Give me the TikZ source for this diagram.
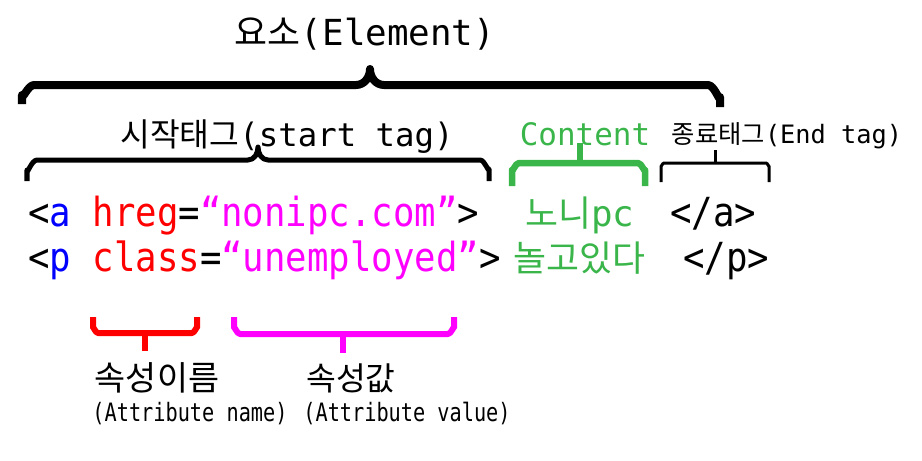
\documentclass[tikz,border=0pt]{standalone}
\usepackage{fontspec}
\usepackage{xcolor}
\setmainfont{DejaVu Sans Mono}
\newfontfamily\kr{Noto Sans CJK KR}
\definecolor{tagblue}{RGB}{0,0,255}
\definecolor{attrred}{RGB}{255,0,0}
\definecolor{valmagenta}{RGB}{255,0,255}
\definecolor{contentgreen}{RGB}{57,181,74}

\begin{document}
\begin{tikzpicture}[x=0.025cm, y=-0.025cm,
  every node/.style={inner sep=0pt, anchor=base},
  code/.style={font=\fontsize{28.5}{32}\selectfont, anchor=base west, xscale=0.89, transform shape},
  krcode/.style={font=\fontsize{25.5}{30}\selectfont, anchor=base west},
  label/.style={font=\fontsize{23}{27}\selectfont},
  small/.style={font=\fontsize{18}{21}\selectfont, xscale=0.8, transform shape},
  bracket/.style={line width=#1*0.7113pt, line cap=butt, line join=round}]
  \useasboundingbox (0,0) rectangle (922,461);

  % labels above
  \node[font=\fontsize{25.5}{30}\selectfont] (element) at (365,45) {{\kr 요소}(Element)};
  \node[label] (starttag) at (287,146) {{\kr 시작태그}(start tag)};
  \node[label, font=\fontsize{22}{26}\selectfont, text=contentgreen] (content) at (585,145) {Content};
  \node[font=\fontsize{18}{21}\selectfont] (endtag) at (787,143) {{\kr 종료태그}(End tag)};

  % braces
  \draw[bracket=8] (22,104) -- (22,95) to[out=-90,in=180] (34,85) -- (356,85)
    to[out=0,in=-90] (370,69) to[out=-90,in=180] (384,85) -- (708,85)
    to[out=0,in=-90] (720,97) -- (720,107);
  \draw[bracket=5] (27,181) -- (27,170) to[out=-90,in=180] (37,160) -- (248,160)
    to[out=0,in=-90] (258,147) to[out=-90,in=180] (268,160) -- (480,160)
    to[out=0,in=-90] (489,169) -- (489,181);
  \draw[bracket=6.5, contentgreen] (512,186) -- (512,170) to[out=-90,in=180] (519,163) -- (638,163)
    to[out=0,in=-90] (645,170) -- (645,186);
  \draw[bracket=6.5, contentgreen] (580,163) -- (580,143);
  \draw[bracket=3] (661,182) -- (661,166) to[out=-90,in=180] (664,163) -- (766,163)
    to[out=0,in=-90] (769,166) -- (769,182);
  \draw[bracket=3] (715,163) -- (715,150);

  % code lines
  \node[code] (line1) at (28,226) {<\textcolor{tagblue}{a} \textcolor{attrred}{hreg}=\textcolor{valmagenta}{“nonipc.com”}>};
  \node[krcode, text=contentgreen] (content1) at (525,226) {{\kr 노니}pc};
  \node[code] (end1) at (670,226) {</a>};
  \node[code] (line2) at (28,271) {<\textcolor{tagblue}{p} \textcolor{attrred}{class}=\textcolor{valmagenta}{“unemployed”}>};
  \node[krcode, text=contentgreen] (content2) at (513,271) {{\kr 놀고있다}};
  \node[code] (end2) at (683,271) {</p>};

  % attribute brackets
  \draw[bracket=6, attrred] (93,317) -- (93,328) to[out=90,in=180] (98,333) -- (192,333)
    to[out=0,in=90] (197,328) -- (197,317);
  \draw[bracket=6, attrred] (145,333) -- (145,351);
  \draw[bracket=6, valmagenta] (234,317) -- (234,328) to[out=90,in=180] (240,334) -- (448,334)
    to[out=0,in=90] (454,328) -- (454,317);
  \draw[bracket=6, valmagenta] (343,334) -- (343,353);

  % attribute labels
  \node[label, font=\fontsize{24}{28}\selectfont] (attrname) at (157,390) {\kr 속성이름};
  \node[small] (attrnameen) at (190,421) {(Attribute name)};
  \node[label, font=\fontsize{23}{27}\selectfont] (attrval) at (351,390) {\kr 속성값};
  \node[small] (attrvalen) at (407,421) {(Attribute value)};
\end{tikzpicture}
\end{document}
